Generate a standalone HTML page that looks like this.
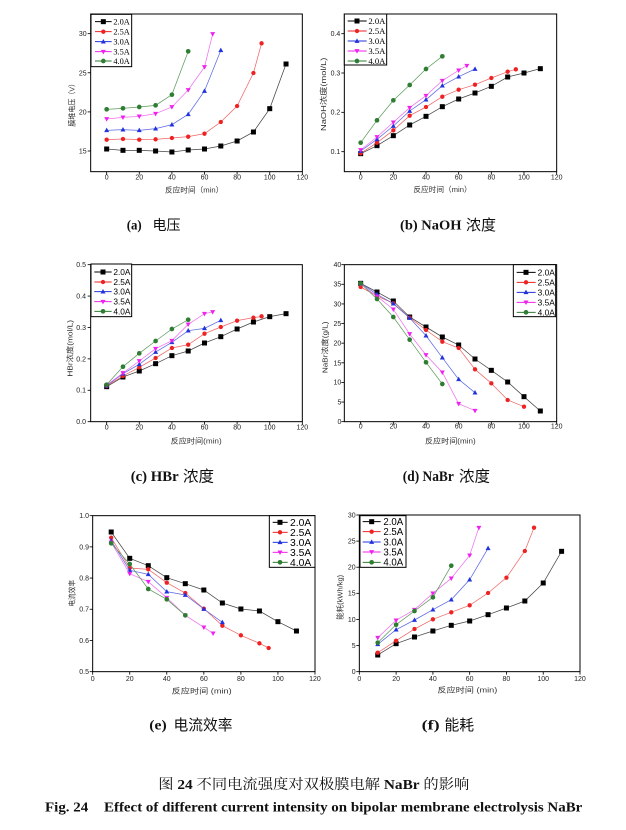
<!DOCTYPE html>
<html>
<head>
<meta charset="utf-8">
<style>
html,body{margin:0;padding:0;background:#fff;}
svg{display:block;}
.fr{fill:none;stroke:#000;stroke-width:3;}
.tk{stroke:#000;stroke-width:2.5;}
.tl{font-family:"Liberation Sans",sans-serif;font-size:21px;fill:#222;}
.tm{text-anchor:middle;}
.te{text-anchor:end;}
.at{font-family:"Liberation Sans","Noto Sans CJK SC",sans-serif;font-size:23px;fill:#333;}
.lgs{font-family:"Liberation Serif",serif;fill:#000;}
.lga{font-family:"Liberation Sans",sans-serif;fill:#000;}
.lb{fill:#fff;stroke:#000;stroke-width:3;}
.s0{fill:none;stroke:#444;stroke-width:2.2;marker-start:url(#m0);marker-mid:url(#m0);marker-end:url(#m0);}
.s1{fill:none;stroke:#f06464;stroke-width:2.2;marker-start:url(#m1);marker-mid:url(#m1);marker-end:url(#m1);}
.s2{fill:none;stroke:#5a66e6;stroke-width:2.2;marker-start:url(#m2);marker-mid:url(#m2);marker-end:url(#m2);}
.s3{fill:none;stroke:#f070f0;stroke-width:2.2;marker-start:url(#m3);marker-mid:url(#m3);marker-end:url(#m3);}
.s4{fill:none;stroke:#5a9a5a;stroke-width:2.2;marker-start:url(#m4);marker-mid:url(#m4);marker-end:url(#m4);}
.l0{fill:none;stroke:#000;stroke-width:3;marker-mid:url(#m0);}
.l1{fill:none;stroke:#ee2222;stroke-width:3;marker-mid:url(#m1);}
.l2{fill:none;stroke:#2233dd;stroke-width:3;marker-mid:url(#m2);}
.l3{fill:none;stroke:#ee22ee;stroke-width:3;marker-mid:url(#m3);}
.l4{fill:none;stroke:#2e7d32;stroke-width:3;marker-mid:url(#m4);}
.cs{font-family:"Liberation Serif",serif;font-weight:bold;fill:#111;}
.cc{font-family:"Noto Sans CJK SC",sans-serif;fill:#111;}
</style>
</head>
<body>
<svg width="626" height="830" viewBox="0 0 626 830" xmlns="http://www.w3.org/2000/svg">
<defs>
<marker id="m0" markerUnits="userSpaceOnUse" markerWidth="20" markerHeight="20" refX="10" refY="10" overflow="visible"><rect x="2.5" y="2.5" width="15" height="15" fill="#000"/></marker>
<marker id="m1" markerUnits="userSpaceOnUse" markerWidth="20" markerHeight="20" refX="10" refY="10" overflow="visible"><circle cx="10" cy="10" r="6.5" fill="#ee2222"/></marker>
<marker id="m2" markerUnits="userSpaceOnUse" markerWidth="20" markerHeight="20" refX="10" refY="10" overflow="visible"><polygon points="10,2 17.5,15.5 2.5,15.5" fill="#2233dd"/></marker>
<marker id="m3" markerUnits="userSpaceOnUse" markerWidth="20" markerHeight="20" refX="10" refY="10" overflow="visible"><polygon points="10,18 17.5,4.5 2.5,4.5" fill="#ee22ee"/></marker>
<marker id="m4" markerUnits="userSpaceOnUse" markerWidth="20" markerHeight="20" refX="10" refY="10" overflow="visible"><circle cx="10" cy="10" r="7" fill="#2e7d32"/></marker>
</defs>

<!-- ================= Panel (a) ================= -->
<g transform="translate(50,0) scale(0.333333)">
<rect class="fr" x="122" y="42" width="635" height="473"/>
<g class="tk">
<line x1="170" y1="515" x2="170" y2="524"/><line x1="267.8" y1="515" x2="267.8" y2="524"/><line x1="365.7" y1="515" x2="365.7" y2="524"/><line x1="463.5" y1="515" x2="463.5" y2="524"/><line x1="561.3" y1="515" x2="561.3" y2="524"/><line x1="659.2" y1="515" x2="659.2" y2="524"/><line x1="757" y1="515" x2="757" y2="524"/>
<line x1="113" y1="453" x2="122" y2="453"/><line x1="113" y1="335.7" x2="122" y2="335.7"/><line x1="113" y1="218.3" x2="122" y2="218.3"/><line x1="113" y1="101" x2="122" y2="101"/>
</g>
<g class="tl tm">
<text x="170" y="538">0</text><text x="267.8" y="538">20</text><text x="365.7" y="538">40</text><text x="463.5" y="538">60</text><text x="561.3" y="538">80</text><text x="659.2" y="538">100</text><text x="757" y="538">120</text>
</g>
<g class="tl te">
<text x="110" y="460">15</text><text x="110" y="343">20</text><text x="110" y="226">25</text><text x="110" y="108">30</text>
</g>
<text class="at" x="345" y="578" textLength="175" lengthAdjust="spacingAndGlyphs">反应时间（min）</text>
<text class="at tm" transform="translate(73,310) rotate(-90)" x="0" y="0" textLength="140" lengthAdjust="spacingAndGlyphs">膜堆电压（V）</text>
<polyline class="s0" points="170,447 218.9,451 267.8,451 316.8,453 365.7,456 414.6,450 463.5,447 512.4,438 561.3,423 610.3,396 659.2,326 708.1,192"/>
<polyline class="s1" points="170,419 218.9,417 267.8,419 316.8,418 365.7,414 414.6,410 463.5,401 512.4,366 561.3,318 610.3,219 634.7,130"/>
<polyline class="s2" points="170,391 218.9,389 267.8,391 316.8,386 365.7,374 414.6,343 463.5,273 512.4,151"/>
<polyline class="s3" points="170,357 218.9,352 267.8,349 316.8,341 365.7,321 414.6,270 463.5,201 488,102"/>
<polyline class="s4" points="170,328 218.9,325 267.8,321 316.8,316 365.7,284 414.6,154"/>
<rect class="lb" x="123" y="43" width="122" height="157"/>
<polyline class="l0" points="135,65 160,65 185,65"/>
<polyline class="l1" points="135,95 160,95 185,95"/>
<polyline class="l2" points="135,125 160,125 185,125"/>
<polyline class="l3" points="135,155 160,155 185,155"/>
<polyline class="l4" points="135,183 160,183 185,183"/>
<g class="lgs" font-size="25">
<text x="190" y="74">2.0A</text><text x="190" y="104">2.5A</text><text x="190" y="134">3.0A</text><text x="190" y="164">3.5A</text><text x="190" y="192">4.0A</text>
</g>
</g>

<!-- ================= Panel (b) ================= -->
<g transform="translate(310,0) scale(0.333333)">
<rect class="fr" x="103" y="42" width="637" height="473"/>
<g class="tk">
<line x1="152" y1="515" x2="152" y2="524"/><line x1="250" y1="515" x2="250" y2="524"/><line x1="348" y1="515" x2="348" y2="524"/><line x1="446" y1="515" x2="446" y2="524"/><line x1="544" y1="515" x2="544" y2="524"/><line x1="642" y1="515" x2="642" y2="524"/><line x1="740" y1="515" x2="740" y2="524"/>
<line x1="94" y1="455" x2="103" y2="455"/><line x1="94" y1="337" x2="103" y2="337"/><line x1="94" y1="219" x2="103" y2="219"/><line x1="94" y1="101" x2="103" y2="101"/>
</g>
<g class="tl tm">
<text x="152" y="538">0</text><text x="250" y="538">20</text><text x="348" y="538">40</text><text x="446" y="538">60</text><text x="544" y="538">80</text><text x="642" y="538">100</text><text x="740" y="538">120</text>
</g>
<g class="tl te">
<text x="91" y="462">0.1</text><text x="91" y="344">0.2</text><text x="91" y="226">0.3</text><text x="91" y="108">0.4</text>
</g>
<text class="at" x="310" y="576" textLength="175" lengthAdjust="spacingAndGlyphs">反应时间（min）</text>
<text class="at tm" transform="translate(48,283) rotate(-90)" x="0" y="0" textLength="220" lengthAdjust="spacingAndGlyphs">NaOH浓度(mol/L)</text>
<polyline class="s0" points="152,461 201,437 250,407 299,375 348,349 397,320 446,297 495,279 544,259 593,231 642,219 691,206"/>
<polyline class="s1" points="152,460 201,428 250,391 299,347 348,321 397,290 446,269 495,254 544,234 593,215 617.5,208"/>
<polyline class="s2" points="152,453 201,418 250,378 299,333 348,299 397,257 446,230 495,207"/>
<polyline class="s3" points="152,450 201,411 250,367 299,323 348,287 397,242 446,211 470.5,197"/>
<polyline class="s4" points="152,428 201,361 250,301 299,255 348,207 397,169"/>
<rect class="lb" x="103" y="42" width="127" height="153"/>
<polyline class="l0" points="113,63 141,63 170,63"/>
<polyline class="l1" points="113,93 141,93 170,93"/>
<polyline class="l2" points="113,123 141,123 170,123"/>
<polyline class="l3" points="113,153 141,153 170,153"/>
<polyline class="l4" points="113,183 141,183 170,183"/>
<g class="lgs" font-size="26">
<text x="175" y="72">2.0A</text><text x="175" y="102">2.5A</text><text x="175" y="132">3.0A</text><text x="175" y="162">3.5A</text><text x="175" y="192">4.0A</text>
</g>
</g>

<!-- ================= Panel (c) ================= -->
<g transform="translate(50,250) scale(0.333333)">
<rect class="fr" x="122" y="44" width="635" height="471"/>
<g class="tk">
<line x1="170" y1="515" x2="170" y2="524"/><line x1="267.8" y1="515" x2="267.8" y2="524"/><line x1="365.7" y1="515" x2="365.7" y2="524"/><line x1="463.5" y1="515" x2="463.5" y2="524"/><line x1="561.3" y1="515" x2="561.3" y2="524"/><line x1="659.2" y1="515" x2="659.2" y2="524"/><line x1="757" y1="515" x2="757" y2="524"/>
<line x1="113" y1="515" x2="122" y2="515"/><line x1="113" y1="420.8" x2="122" y2="420.8"/><line x1="113" y1="326.6" x2="122" y2="326.6"/><line x1="113" y1="232.4" x2="122" y2="232.4"/><line x1="113" y1="138.2" x2="122" y2="138.2"/><line x1="113" y1="44" x2="122" y2="44"/>
</g>
<g class="tl tm">
<text x="170" y="538">0</text><text x="267.8" y="538">20</text><text x="365.7" y="538">40</text><text x="463.5" y="538">60</text><text x="561.3" y="538">80</text><text x="659.2" y="538">100</text><text x="757" y="538">120</text>
</g>
<g class="tl te">
<text x="108" y="522">0.0</text><text x="108" y="428">0.1</text><text x="108" y="334">0.2</text><text x="108" y="240">0.3</text><text x="108" y="145">0.4</text><text x="108" y="51">0.5</text>
</g>
<text class="at" x="362" y="581" textLength="153" lengthAdjust="spacingAndGlyphs">反应时间(min)</text>
<text class="at tm" transform="translate(68,295) rotate(-90)" x="0" y="0" textLength="170" lengthAdjust="spacingAndGlyphs">HBr浓度(mol/L)</text>
<polyline class="s0" points="170,410 218.9,381 267.8,363 316.8,341 365.7,317 414.6,303 463.5,279 512.4,260 561.3,237 610.3,216 659.2,200 708.1,191"/>
<polyline class="s1" points="170,408 218.9,378 267.8,352 316.8,324 365.7,294 414.6,284 463.5,251 512.4,231 561.3,212 610.3,203 634.7,199"/>
<polyline class="s2" points="170,407 218.9,371 267.8,343 316.8,306 365.7,277 414.6,242 463.5,235 512.4,211"/>
<polyline class="s3" points="170,405 218.9,369 267.8,333 316.8,296 365.7,272 414.6,223 463.5,191 488,186"/>
<polyline class="s4" points="170,404 218.9,350 267.8,310 316.8,273 365.7,237 414.6,209"/>
<rect class="lb" x="123" y="42" width="122" height="158"/>
<polyline class="l0" points="133,66 159,66 185,66"/>
<polyline class="l1" points="133,96 159,96 185,96"/>
<polyline class="l2" points="133,125 159,125 185,125"/>
<polyline class="l3" points="133,155 159,155 185,155"/>
<polyline class="l4" points="133,184 159,184 185,184"/>
<g class="lga" font-size="25">
<text x="190" y="75">2.0A</text><text x="190" y="105">2.5A</text><text x="190" y="134">3.0A</text><text x="190" y="164">3.5A</text><text x="190" y="193">4.0A</text>
</g>
</g>

<!-- ================= Panel (d) ================= -->
<g transform="translate(310,250) scale(0.333333)">
<rect class="fr" x="103" y="44" width="637" height="471"/>
<g class="tk">
<line x1="152" y1="515" x2="152" y2="524"/><line x1="250" y1="515" x2="250" y2="524"/><line x1="348" y1="515" x2="348" y2="524"/><line x1="446" y1="515" x2="446" y2="524"/><line x1="544" y1="515" x2="544" y2="524"/><line x1="642" y1="515" x2="642" y2="524"/><line x1="740" y1="515" x2="740" y2="524"/>
<line x1="94" y1="515" x2="103" y2="515"/><line x1="94" y1="456.1" x2="103" y2="456.1"/><line x1="94" y1="397.3" x2="103" y2="397.3"/><line x1="94" y1="338.4" x2="103" y2="338.4"/><line x1="94" y1="279.5" x2="103" y2="279.5"/><line x1="94" y1="220.6" x2="103" y2="220.6"/><line x1="94" y1="161.8" x2="103" y2="161.8"/><line x1="94" y1="102.9" x2="103" y2="102.9"/><line x1="94" y1="44" x2="103" y2="44"/>
</g>
<g class="tl tm">
<text x="152" y="536">0</text><text x="250" y="536">20</text><text x="348" y="536">40</text><text x="446" y="536">60</text><text x="544" y="536">80</text><text x="642" y="536">100</text><text x="740" y="536">120</text>
</g>
<g class="tl te">
<text x="94" y="522">0</text><text x="94" y="463">5</text><text x="94" y="404">10</text><text x="94" y="346">15</text><text x="94" y="287">20</text><text x="94" y="228">25</text><text x="94" y="169">30</text><text x="94" y="110">35</text><text x="94" y="51">40</text>
</g>
<text class="at" x="345" y="581" textLength="152" lengthAdjust="spacingAndGlyphs">反应时间(min)</text>
<text class="at tm" transform="translate(53,292) rotate(-90)" x="0" y="0" textLength="155" lengthAdjust="spacingAndGlyphs">NaBr浓度(g/L)</text>
<polyline class="s0" points="152,100 201,126 250,153 299,201 348,231 397,261 446,285 495,327 544,361 593,396 642,440 691,483"/>
<polyline class="s1" points="152,111 201,138 250,160 299,203 348,240 397,275 446,294 495,358 544,400 593,450 642,470"/>
<polyline class="s2" points="152,100 201,133 250,161 299,204 348,257 397,323 446,388 495,428"/>
<polyline class="s3" points="152,102 201,139 250,178 299,252 348,315 397,367 446,461 495,482"/>
<polyline class="s4" points="152,100 201,147 250,201 299,269 348,337 397,402"/>
<rect class="lb" x="610" y="44" width="127" height="156"/>
<polyline class="l0" points="620,67 648,67 677,67"/>
<polyline class="l1" points="620,97 648,97 677,97"/>
<polyline class="l2" points="620,127 648,127 677,127"/>
<polyline class="l3" points="620,157 648,157 677,157"/>
<polyline class="l4" points="620,187 648,187 677,187"/>
<g class="lga" font-size="25">
<text x="683" y="76">2.0A</text><text x="683" y="106">2.5A</text><text x="683" y="136">3.0A</text><text x="683" y="166">3.5A</text><text x="683" y="196">4.0A</text>
</g>
</g>

<!-- ================= Panel (e) ================= -->
<g transform="translate(50,505) scale(0.333333)">
<rect class="fr" x="128" y="32" width="667" height="468"/>
<g class="tk">
<line x1="128" y1="500" x2="128" y2="509"/><line x1="239.2" y1="500" x2="239.2" y2="509"/><line x1="350.3" y1="500" x2="350.3" y2="509"/><line x1="461.5" y1="500" x2="461.5" y2="509"/><line x1="572.7" y1="500" x2="572.7" y2="509"/><line x1="683.8" y1="500" x2="683.8" y2="509"/><line x1="795" y1="500" x2="795" y2="509"/>
<line x1="119" y1="500" x2="128" y2="500"/><line x1="119" y1="406.4" x2="128" y2="406.4"/><line x1="119" y1="312.8" x2="128" y2="312.8"/><line x1="119" y1="219.2" x2="128" y2="219.2"/><line x1="119" y1="125.6" x2="128" y2="125.6"/><line x1="119" y1="32" x2="128" y2="32"/>
</g>
<g class="tl tm">
<text x="128" y="528">0</text><text x="239.2" y="528">20</text><text x="350.3" y="528">40</text><text x="461.5" y="528">60</text><text x="572.7" y="528">80</text><text x="683.8" y="528">100</text><text x="795" y="528">120</text>
</g>
<g class="tl te">
<text x="117" y="507">0.5</text><text x="117" y="414">0.6</text><text x="117" y="320">0.7</text><text x="117" y="226">0.8</text><text x="117" y="133">0.9</text><text x="117" y="39">1.0</text>
</g>
<text class="at" x="365" y="565" textLength="180" lengthAdjust="spacingAndGlyphs">反应时间 (min)</text>
<text class="at tm" transform="translate(73,265) rotate(-90)" x="0" y="0" textLength="80" lengthAdjust="spacingAndGlyphs">电流效率</text>
<polyline class="s0" points="183.6,81 239.2,160 294.8,182 350.3,218 405.9,236 461.5,255 517.1,294 572.7,312 628.3,318 683.8,350 739.4,378"/>
<polyline class="s1" points="183.6,98 239.2,189 294.8,193 350.3,233 405.9,264 461.5,311 517.1,362 572.7,391 628.3,415 656,429"/>
<polyline class="s2" points="183.6,107 239.2,196 294.8,208 350.3,260 405.9,270 461.5,312 517.1,352"/>
<polyline class="s3" points="183.6,112 239.2,206 294.8,230 350.3,278 405.9,331 461.5,367 489.3,385"/>
<polyline class="s4" points="183.6,115 239.2,177 294.8,252 350.3,283 405.9,331"/>
<rect class="lb" x="658" y="32" width="137" height="155"/>
<polyline class="l0" points="668,52 690,52 713,52"/>
<polyline class="l1" points="668,82 690,82 713,82"/>
<polyline class="l2" points="668,112 690,112 713,112"/>
<polyline class="l3" points="668,142 690,142 713,142"/>
<polyline class="l4" points="668,172 690,172 713,172"/>
<g class="lga" font-size="31">
<text x="720" y="63">2.0A</text><text x="720" y="93">2.5A</text><text x="720" y="123">3.0A</text><text x="720" y="153">3.5A</text><text x="720" y="183">4.0A</text>
</g>
</g>

<!-- ================= Panel (f) ================= -->
<g transform="translate(320,505) scale(0.333333)">
<rect class="fr" x="118" y="30" width="662" height="470"/>
<g class="tk">
<line x1="118" y1="500" x2="118" y2="509"/><line x1="228.3" y1="500" x2="228.3" y2="509"/><line x1="338.7" y1="500" x2="338.7" y2="509"/><line x1="449" y1="500" x2="449" y2="509"/><line x1="559.3" y1="500" x2="559.3" y2="509"/><line x1="669.7" y1="500" x2="669.7" y2="509"/><line x1="780" y1="500" x2="780" y2="509"/>
<line x1="109" y1="500" x2="118" y2="500"/><line x1="109" y1="421.7" x2="118" y2="421.7"/><line x1="109" y1="343.3" x2="118" y2="343.3"/><line x1="109" y1="265" x2="118" y2="265"/><line x1="109" y1="186.7" x2="118" y2="186.7"/><line x1="109" y1="108.3" x2="118" y2="108.3"/><line x1="109" y1="30" x2="118" y2="30"/>
</g>
<g class="tl tm">
<text x="118" y="528">0</text><text x="228.3" y="528">20</text><text x="338.7" y="528">40</text><text x="449" y="528">60</text><text x="559.3" y="528">80</text><text x="669.7" y="528">100</text><text x="780" y="528">120</text>
</g>
<g class="tl te">
<text x="107" y="507">0</text><text x="107" y="429">5</text><text x="107" y="351">10</text><text x="107" y="272">15</text><text x="107" y="194">20</text><text x="107" y="116">25</text><text x="107" y="37">30</text>
</g>
<text class="at" x="352" y="563" textLength="180" lengthAdjust="spacingAndGlyphs">反应时间 (min)</text>
<text class="at tm" transform="translate(68,277) rotate(-90)" x="0" y="0" textLength="135" lengthAdjust="spacingAndGlyphs">能耗(kWh/kg)</text>
<polyline class="s0" points="173.2,450 228.3,416 283.5,396 338.7,378 393.8,361 449,348 504.2,329 559.3,309 614.5,288 669.7,234 724.8,139"/>
<polyline class="s1" points="173.2,443 228.3,407 283.5,372 338.7,343 393.8,322 449,301 504.2,264 559.3,218 614.5,138 642.1,68"/>
<polyline class="s2" points="173.2,418 228.3,374 283.5,345 338.7,314 393.8,284 449,224 504.2,130"/>
<polyline class="s3" points="173.2,398 228.3,346 283.5,314 338.7,265 393.8,220 449,151 476.6,68"/>
<polyline class="s4" points="173.2,413 228.3,359 283.5,318 338.7,277 393.8,182"/>
<rect class="lb" x="120" y="32" width="138" height="155"/>
<polyline class="l0" points="128,50 155,50 182,50"/>
<polyline class="l1" points="128,80 155,80 182,80"/>
<polyline class="l2" points="128,111 155,111 182,111"/>
<polyline class="l3" points="128,141 155,141 182,141"/>
<polyline class="l4" points="128,172 155,172 182,172"/>
<g class="lga" font-size="29">
<text x="190" y="60">2.0A</text><text x="190" y="90">2.5A</text><text x="190" y="121">3.0A</text><text x="190" y="151">3.5A</text><text x="190" y="182">4.0A</text>
</g>
</g>

<!-- ================= Captions ================= -->
<text class="cs" x="126.7" y="229.5" font-size="14" textLength="15" lengthAdjust="spacingAndGlyphs">(a)</text>
<text class="cc" x="152.5" y="230" font-size="14">电压</text>

<text class="cs" x="400" y="229.5" font-size="14" textLength="61.5" lengthAdjust="spacingAndGlyphs">(b) NaOH</text>
<text class="cc" x="466" y="230" font-size="15">浓度</text>

<text class="cs" x="130.7" y="481" font-size="15" textLength="48" lengthAdjust="spacingAndGlyphs">(c) HBr</text>
<text class="cc" x="183" y="481.5" font-size="15.5">浓度</text>

<text class="cs" x="402.8" y="481" font-size="15" textLength="51" lengthAdjust="spacingAndGlyphs">(d) NaBr</text>
<text class="cc" x="459" y="481.5" font-size="15.5">浓度</text>

<text class="cs" x="149.3" y="729.5" font-size="14" textLength="17.4" lengthAdjust="spacingAndGlyphs">(e)</text>
<text class="cc" x="173.5" y="730" font-size="14.8" textLength="59" lengthAdjust="spacingAndGlyphs">电流效率</text>

<text class="cs" x="421.7" y="729.5" font-size="14" textLength="18" lengthAdjust="spacingAndGlyphs">(f)</text>
<text class="cc" x="444.5" y="730" font-size="14.8">能耗</text>

<text x="158.3" y="789" font-size="14" textLength="311" lengthAdjust="spacingAndGlyphs" font-family="'Liberation Serif','Noto Serif CJK SC',serif" fill="#111"><tspan>图 </tspan><tspan font-weight="bold">24</tspan><tspan> 不同电流强度对双极膜电解 </tspan><tspan font-weight="bold">NaBr</tspan><tspan> 的影响</tspan></text>

<text class="cs" x="45" y="811.5" font-size="14" textLength="43.3" lengthAdjust="spacingAndGlyphs">Fig. 24</text>
<text class="cs" x="104" y="811.5" font-size="14" textLength="478.3" lengthAdjust="spacingAndGlyphs">Effect of different current intensity on bipolar membrane electrolysis NaBr</text>
</svg>
</body>
</html>
